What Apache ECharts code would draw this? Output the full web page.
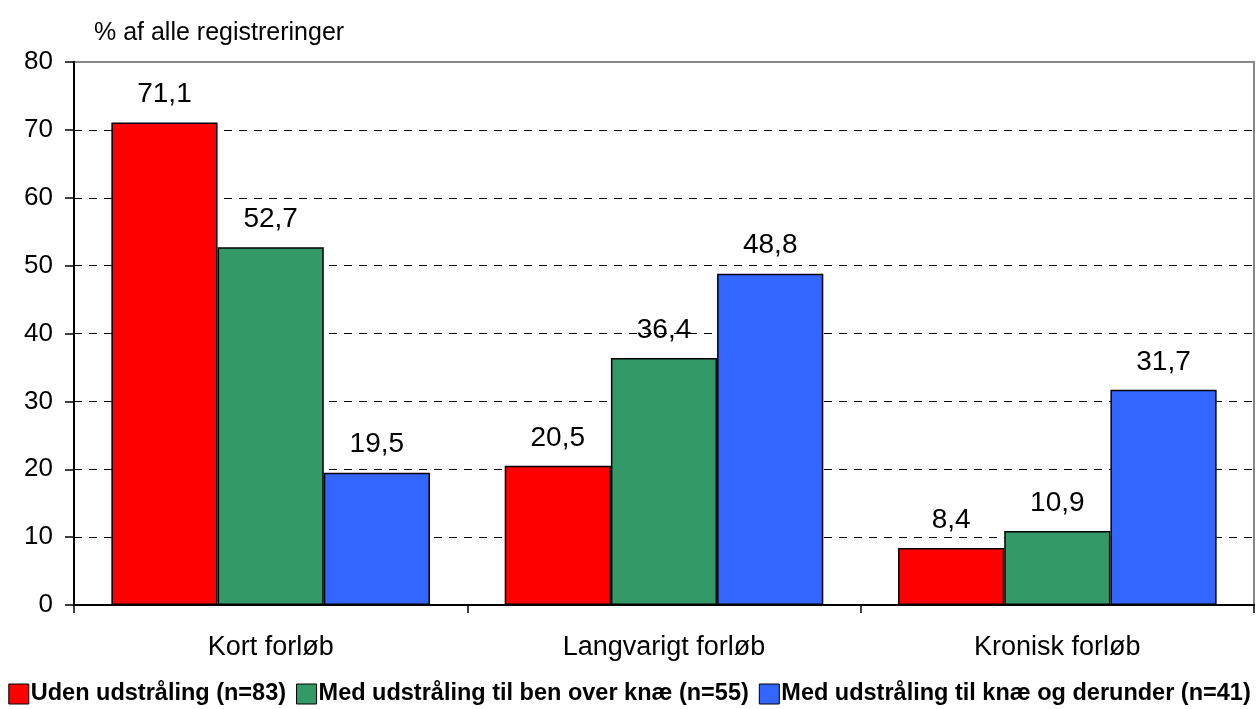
<!DOCTYPE html>
<html>
<head>
<meta charset="utf-8">
<script src="https://cdn.jsdelivr.net/npm/echarts@6/dist/echarts.min.js"></script>
<style>
	html, body { margin: 0; padding: 0; background: #fff; }
	#chart { width: 1259px; height: 709px; }
</style>
</head>
<body>
<div id="chart"></div>
<script>
let categories = ['Kort forløb', 'Langvarigt forløb', 'Kronisk forløb'];
let series_names = ['Uden udstråling (n=83)', 'Med udstråling til ben over knæ (n=55)', 'Med udstråling til knæ og derunder (n=41)'];
let uden = [71.1, 20.5, 8.4];
let over_knae = [52.7, 36.4, 10.9];
let under_knae = [19.5, 48.8, 31.7];
let colors = ['#FF0000', '#339966', '#3366FF'];

let font = '"Liberation Sans", Arial, sans-serif';

let chart = echarts.init(document.getElementById('chart'));

// 一组柱子
function bar(name, data, color) {
	return {
		name: name,
		type: 'bar',
		data: data,
		barGap: 0,
		barCategoryGap: '19%',
		itemStyle: { color: color, borderColor: '#000', borderWidth: 1.5 },
		label: {
			show: true,
			position: 'top',
			distance: 14,
			fontFamily: font,
			fontSize: 28,
			color: '#000',
			formatter: (p) => p.value.toFixed(1).replace('.', ','),
		},
	};
}

let option = {
	animation: false,
	backgroundColor: '#fff',
	textStyle: { fontFamily: font },
	title: {
		text: '% af alle registreringer',
		left: 89,
		top: 16,
		textStyle: { fontFamily: font, fontSize: 25, fontWeight: 'normal', color: '#000' },
	},
	grid: {
		left: 74,
		right: 5,
		top: 62,
		bottom: 104,
		show: true,
		borderColor: '#888',
		borderWidth: 2,
	},
	legend: {
		bottom: -2,
		left: 'center',
		itemWidth: 20,
		itemHeight: 20,
		itemGap: 10,
		icon: 'rect',
		textStyle: { fontFamily: font, fontSize: 23.5, fontWeight: 'bold', color: '#000', padding: [0, 0, 0, -3] },
		itemStyle: { borderColor: '#000', borderWidth: 1 },
	},
	xAxis: {
		type: 'category',
		data: categories,
		axisLine: { lineStyle: { color: '#000', width: 2 } },
		axisTick: { show: true, length: 8, lineStyle: { color: '#000', width: 1.5 } },
		axisLabel: { fontFamily: font, fontSize: 27, color: '#000', margin: 29 },
	},
	yAxis: {
		type: 'value',
		min: 0,
		max: 80,
		interval: 10,
		axisLine: { show: true, lineStyle: { color: '#000', width: 2 } },
		axisTick: { show: true, length: 9, lineStyle: { color: '#000', width: 1.5 } },
		axisLabel: { fontFamily: font, fontSize: 26, color: '#000', margin: 21 },
		splitLine: {
			show: true,
			showMaxLine: false,
			lineStyle: { color: '#000', type: [8, 7], width: 1 },
		},
	},
	series: [
		bar(series_names[0], uden, colors[0]),
		bar(series_names[1], over_knae, colors[1]),
		bar(series_names[2], under_knae, colors[2]),
	],
};
chart.setOption(option);
</script>
</body>
</html>
